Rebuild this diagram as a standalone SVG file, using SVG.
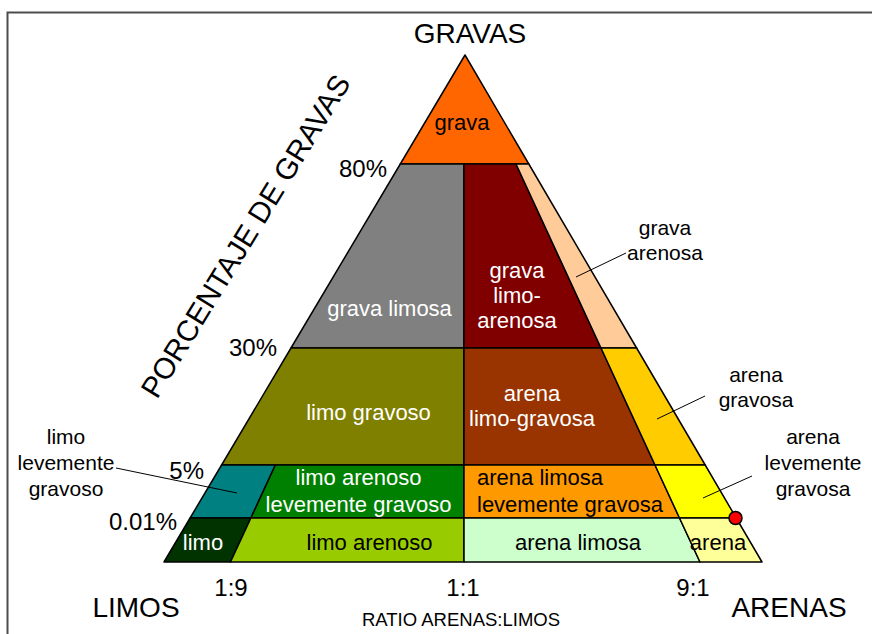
<svg xmlns="http://www.w3.org/2000/svg" width="872" height="634" viewBox="0 0 872 634">
<style>
text{font-family:"Liberation Sans",Arial,sans-serif;}
.r{stroke:#000;stroke-width:1.5;stroke-linejoin:round;}
.t{font-size:22px;text-anchor:middle;}
.w{fill:#fff;}
.k{fill:#000;}
.lbl{font-size:21px;text-anchor:middle;fill:#000;}
.pct{font-size:24px;text-anchor:end;fill:#000;}
.big{font-size:28px;text-anchor:middle;fill:#000;}
.lead{stroke:#000;stroke-width:1;fill:none;}
</style>
<rect width="872" height="634" fill="#fff"/>
<path d="M7.5,640 V12.5 H880" fill="none" stroke="#4d4d4d" stroke-width="2"/>

<g id="grava"><polygon class="r" fill="#FF6600" points="465,55 400.3,164 528.8,164"/><text class="t k" x="462" y="130">grava</text></g>
<g id="grava-limosa"><polygon class="r" fill="#808080" points="400.3,164 464,164 464,348 291,348"/><text class="t w" x="389.5" y="316">grava limosa</text></g>
<g id="grava-limo-arenosa"><polygon class="r" fill="#800000" points="464,164 516,164 601,348 464,348"/><text class="t w" x="517" y="278">grava</text><text class="t w" x="517" y="303">limo-</text><text class="t w" x="517" y="328">arenosa</text></g>
<g id="grava-arenosa"><polygon class="r" fill="#FFCC99" points="516,164 528.8,164 636.6,348 601,348"/></g>
<g id="limo-gravoso"><polygon class="r" fill="#808000" points="291,348 464,348 464,465 221.6,465"/><text class="t w" x="368.5" y="420">limo gravoso</text></g>
<g id="arena-limo-gravosa"><polygon class="r" fill="#993300" points="464,348 601,348 655,465 464,465"/><text class="t w" x="532" y="401">arena</text><text class="t w" x="532" y="426">limo-gravosa</text></g>
<g id="arena-gravosa"><polygon class="r" fill="#FFCC00" points="601,348 636.6,348 705.2,465 655,465"/></g>
<g id="limo-levemente-gravoso"><polygon class="r" fill="#008080" points="221.6,465 275.4,465 250.9,518 190.1,518"/></g>
<g id="limo-arenoso-levemente-gravoso"><polygon class="r" fill="#008000" points="275.4,465 464,465 464,518 250.9,518"/><text class="t w" x="358.5" y="485">limo arenoso</text><text class="t w" x="358.5" y="512">levemente gravoso</text></g>
<g id="arena-limosa-levemente-gravosa"><polygon class="r" fill="#FF9900" points="464,465 655,465 679.5,518 464,518"/><text class="k" font-size="22" x="477" y="485">arena limosa</text><text class="k" font-size="22" x="477" y="512">levemente gravosa</text></g>
<g id="arena-levemente-gravosa"><polygon class="r" fill="#FFFF00" points="655,465 705.2,465 736.2,518 679.5,518"/></g>
<g id="limo"><polygon class="r" fill="#003300" points="190.1,518 250.9,518 230.5,562 164,562"/><text class="t w" x="203" y="550">limo</text></g>
<g id="limo-arenoso"><polygon class="r" fill="#99CC00" points="250.9,518 464,518 464,562 230.5,562"/><text class="t k" x="369.5" y="550">limo arenoso</text></g>
<g id="arena-limosa"><polygon class="r" fill="#CCFFCC" points="464,518 679.5,518 700,562 464,562"/><text class="t k" x="578" y="550">arena limosa</text></g>
<g id="arena"><polygon class="r" fill="#FFFF99" points="679.5,518 736.2,518 762,562 700,562"/><text class="t k" x="718" y="550">arena</text></g>

<g id="connectors">
<line class="lead" x1="576" y1="277" x2="626" y2="253"/>
<line class="lead" x1="657" y1="419" x2="705" y2="396"/>
<line class="lead" x1="703" y1="498" x2="752" y2="476"/>
<line class="lead" x1="116" y1="468" x2="237" y2="493"/>
</g>

<g id="marker-dot"><circle cx="735.5" cy="518" r="6.5" fill="#FF0000" stroke="#000" stroke-width="1.5"/></g>

<g id="labels">
<text class="big" x="470" y="43">GRAVAS</text>
<text class="big" x="136" y="617">LIMOS</text>
<text class="big" x="789" y="617">ARENAS</text>
<text font-size="24" text-anchor="middle" x="231" y="596">1:9</text>
<text font-size="24" text-anchor="middle" x="463" y="596">1:1</text>
<text font-size="24" text-anchor="middle" x="693" y="596">9:1</text>
<text font-size="18.5" text-anchor="middle" x="461" y="626">RATIO ARENAS:LIMOS</text>
<text class="pct" x="387" y="177">80%</text>
<text class="pct" x="277" y="356">30%</text>
<text class="pct" x="204" y="479">5%</text>
<text class="pct" x="177" y="530">0.01%</text>
<text font-size="29.5" transform="translate(157,400) rotate(-58.5)">PORCENTAJE DE GRAVAS</text>
<text class="lbl" x="665" y="235">grava</text>
<text class="lbl" x="665" y="260">arenosa</text>
<text class="lbl" x="756" y="382">arena</text>
<text class="lbl" x="756" y="407">gravosa</text>
<text class="lbl" x="813" y="444">arena</text>
<text class="lbl" x="813" y="470">levemente</text>
<text class="lbl" x="813" y="496">gravosa</text>
<text class="lbl" x="66" y="444">limo</text>
<text class="lbl" x="66" y="470">levemente</text>
<text class="lbl" x="66" y="496">gravoso</text>
</g>
</svg>
